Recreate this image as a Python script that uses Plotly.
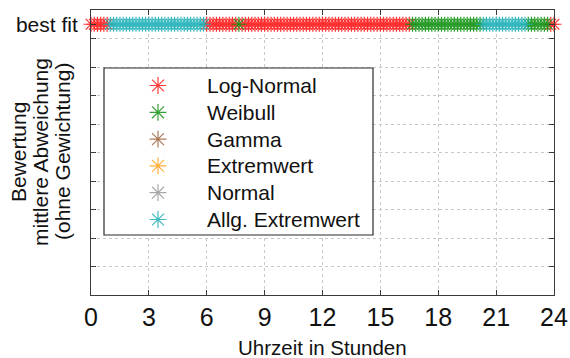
import plotly.graph_objects as go

# ---------------- data ----------------
# distribution names, codes and colours
DIST_NAMES = ["Log-Normal", "Weibull", "Gamma", "Extremwert", "Normal", "Allg. Extremwert"]
DIST_CODES = ["L", "W", "G", "E", "N", "A"]
DIST_COLORS = ["#ff1a1a", "#129212", "#a0643c", "#ffa31a", "#9a9a9a", "#1fb0b8"]

# best-fitting distribution for every 10-minute step (one line per hour, 0 h ... 24 h)
STEP_MINUTES = 10
BEST_FIT = (
    "LLLLLL"  # 0
    "AAAAAA"  # 1
    "AAAAAA"  # 2
    "AAAAAA"  # 3
    "AAAAAA"  # 4
    "AAAAAA"  # 5
    "LLLLLL"  # 6
    "LLLLWL"  # 7
    "LLLLLL"  # 8
    "LLLLLL"  # 9
    "LLLLLL"  # 10
    "LLLLLL"  # 11
    "LLLLLL"  # 12
    "LLLLLL"  # 13
    "LLLLLL"  # 14
    "LLLLLL"  # 15
    "LLLLWW"  # 16
    "WWWWWW"  # 17
    "WWWWWW"  # 18
    "WWWWWW"  # 19
    "WWAAAA"  # 20
    "AAAAAA"  # 21
    "AAAAWW"  # 22
    "WWWWWL"  # 23
    "L"       # 24
)
BEST_RANK = 1  # "best fit"

X_TICKS = [0, 3, 6, 9, 12, 15, 18, 21, 24]
Y_TICK_TEXT = "best fit"
Y_TITLE_LINES = ["Bewertung", "mittlere Abweichung", "(ohne Gewichtung)"]
X_TITLE = "Uhrzeit in Stunden"

# ---------------- layout constants (pixels) ----------------
W, H = 570, 358
L, R, T, B = 91, 554, 10, 295
X_RANGE = (0, 24)
Y_RANGE = (10.5, 0.5)  # reversed: rank 1 at the top
FONT = "Liberation Sans, Arial, sans-serif"
AX_COLOR = "#3a3a3a"
GRID_COLOR = "#c8c8c8"


def px2x(px):
    return X_RANGE[0] + (px - L) / (R - L) * (X_RANGE[1] - X_RANGE[0])


def px2y(py):
    return Y_RANGE[1] + (py - T) / (B - T) * (Y_RANGE[0] - Y_RANGE[1])


fig = go.Figure()

times = [i * STEP_MINUTES / 60 for i in range(len(BEST_FIT))]
for name, code, color in zip(DIST_NAMES, DIST_CODES, DIST_COLORS):
    xs = [t for t, c in zip(times, BEST_FIT) if c == code]
    fig.add_trace(go.Scatter(
        x=xs, y=[BEST_RANK] * len(xs), mode="markers", name=name,
        marker=dict(symbol="asterisk-open", size=12.5, color=color,
                    line=dict(color=color, width=1.2)),
        opacity=0.9, cliponaxis=False, showlegend=False,
    ))

# ---- manual legend ----
LEG_BOX = (104, 68, 373, 235)
LEG_KEY_X = 158
LEG_TEXT_X = 205
LEG_Y0, LEG_DY = 85.5, 26.8
leg_y = [px2y(LEG_Y0 + i * LEG_DY) for i in range(len(DIST_NAMES))]

fig.add_shape(type="rect", xref="x", yref="y",
              x0=px2x(LEG_BOX[0]), y0=px2y(LEG_BOX[1]), x1=px2x(LEG_BOX[2]), y1=px2y(LEG_BOX[3]),
              line=dict(color="#2a2a2a", width=1.2), fillcolor="white", layer="between")
fig.add_trace(go.Scatter(
    x=[px2x(LEG_KEY_X)] * len(DIST_NAMES), y=leg_y, mode="markers",
    marker=dict(symbol="asterisk-open", size=14, color=DIST_COLORS,
                line=dict(color=DIST_COLORS, width=1.2)),
    opacity=0.85, showlegend=False, hoverinfo="skip",
))
for name, y in zip(DIST_NAMES, leg_y):
    fig.add_annotation(x=px2x(LEG_TEXT_X), y=y, xref="x", yref="y", text=name,
                       showarrow=False, xanchor="left", yanchor="middle",
                       font=dict(family=FONT, size=21, color="#111"))

# ---- y-axis title (three lines) ----
for txt, px in zip(Y_TITLE_LINES, [18, 40, 62]):
    fig.add_annotation(x=(px - L) / (R - L), y=(B - 152) / (B - T), xref="paper", yref="paper",
                       text=txt, textangle=-90,
                       showarrow=False, xanchor="center", yanchor="middle",
                       font=dict(family=FONT, size=21, color="#111"))

# ---- x-axis title ----
fig.add_annotation(x=0.5, y=(B - 347.5) / (B - T), xref="paper", yref="paper", text=X_TITLE,
                   showarrow=False, xanchor="center", yanchor="middle",
                   font=dict(family=FONT, size=20.5, color="#111"))

fig.update_layout(
    width=W, height=H,
    margin=dict(l=L, r=W - R, t=T, b=H - B, autoexpand=False),
    paper_bgcolor="white", plot_bgcolor="white",
    font=dict(family=FONT, color="#111"),
    xaxis=dict(
        range=list(X_RANGE), tickvals=X_TICKS, ticktext=[str(v) for v in X_TICKS],
        ticks="inside", ticklen=5, tickcolor=AX_COLOR,
        showline=True, linecolor=AX_COLOR, linewidth=1, mirror="ticks",
        showgrid=True, gridcolor=GRID_COLOR, griddash="dot", gridwidth=1,
        zeroline=False, tickfont=dict(family=FONT, size=25, color="#111"),
        ticklabelstandoff=0, fixedrange=True,
    ),
    yaxis=dict(
        range=list(Y_RANGE), tickvals=[BEST_RANK], ticktext=[Y_TICK_TEXT],
        ticks="inside", ticklen=5, tickcolor=AX_COLOR,
        showline=True, linecolor=AX_COLOR, linewidth=1, mirror="ticks",
        showgrid=False, zeroline=False,
        tickfont=dict(family=FONT, size=21, color="#111"),
        ticklabelstandoff=8, fixedrange=True,
        minor=dict(tickvals=[r + 0.5 for r in range(1, 10)], ticks="inside", ticklen=5,
                   tickcolor=AX_COLOR, showgrid=True, gridcolor=GRID_COLOR,
                   griddash="dot", gridwidth=1),
    ),
)

fig.write_html("out.html")
